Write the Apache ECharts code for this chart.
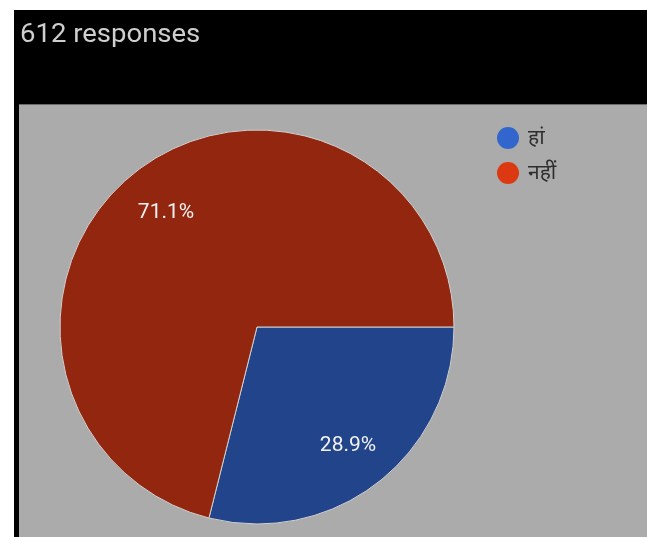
<!DOCTYPE html>
<html>
<head>
<meta charset="utf-8">
<style>
  html, body { margin: 0; padding: 0; background: #ffffff; }
  #chart { width: 647px; height: 537px; }
</style>
<script src="https://cdn.jsdelivr.net/npm/echarts@6/dist/echarts.min.js"></script>
</head>
<body>
<div id="chart"></div>
<script>
// Survey answers: "Yes" / "No"
const categories = ['हां', 'नहीं'];
const responses = [177, 435];
const totalResponses = 612;
const sliceColors = ['#22448a', '#93260f'];
const legendColors = ['#3366cc', '#dc3912'];

const chart = echarts.init(document.getElementById('chart'), null, { renderer: 'canvas' });

const pieData = categories.map((name, i) => ({
  name,
  value: responses[i],
  itemStyle: { color: sliceColors[i] }
}));

const option = {
  animation: false,
  backgroundColor: '#ffffff',
  graphic: [
    // dark frame with the header band
    { type: 'rect', z: -10, shape: { x: 14, y: 10, width: 633, height: 527 }, style: { fill: '#000000' } },
    // grey plot panel
    { type: 'rect', z: -9, shape: { x: 19, y: 104, width: 628, height: 433 }, style: { fill: '#ababab' } },
    { type: 'line', z: -8, shape: { x1: 19, y1: 104.5, x2: 647, y2: 104.5 }, style: { stroke: '#6a6a6a', lineWidth: 1 } },
    // header text
    {
      type: 'text', z: 5, x: 20, y: 23, scaleX: 1.1,
      style: {
        text: totalResponses + ' responses',
        fill: '#cfcfcf',
        font: '25px Roboto',
        textVerticalAlign: 'top'
      }
    }
  ],
  legend: {
    orient: 'vertical',
    left: 492,
    top: 122,
    icon: 'circle',
    itemWidth: 22,
    itemHeight: 22,
    itemGap: 13,
    itemStyle: { borderWidth: 0 },
    data: categories.map((name, i) => ({ name, itemStyle: { color: legendColors[i], borderWidth: 0 } })),
    textStyle: { color: '#2e2e2e', fontSize: 21, lineHeight: 22, height: 22, fontFamily: 'Noto Sans, sans-serif', padding: [0, 0, 0, 4] }
  },
  series: [
    {
      type: 'pie',
      center: [257, 327],
      radius: [0, 197],
      startAngle: 0,
      clockwise: true,
      avoidLabelOverlap: false,
      label: { show: false },
      labelLine: { show: false },
      itemStyle: { borderColor: '#d0d0d0', borderWidth: 1 },
      emphasis: { disabled: true },
      data: pieData
    },
    {
      // transparent ring used only to place the percentage labels
      type: 'pie',
      center: [257, 329],
      radius: [100, 190],
      startAngle: 0,
      clockwise: true,
      silent: true,
      legendHoverLink: false,
      avoidLabelOverlap: false,
      itemStyle: { color: 'rgba(0,0,0,0)', borderWidth: 0 },
      label: {
        show: true,
        position: 'inside',
        formatter: p => (p.value / totalResponses * 100).toFixed(1) + '%',
        color: '#f2f2f2',
        fontFamily: 'Roboto',
        fontSize: 21
      },
      labelLine: { show: false },
      emphasis: { disabled: true },
      data: categories.map((name, i) => ({ name: name + ' ', value: responses[i] }))
    }
  ]
};

chart.setOption(option);
</script>
</body>
</html>
